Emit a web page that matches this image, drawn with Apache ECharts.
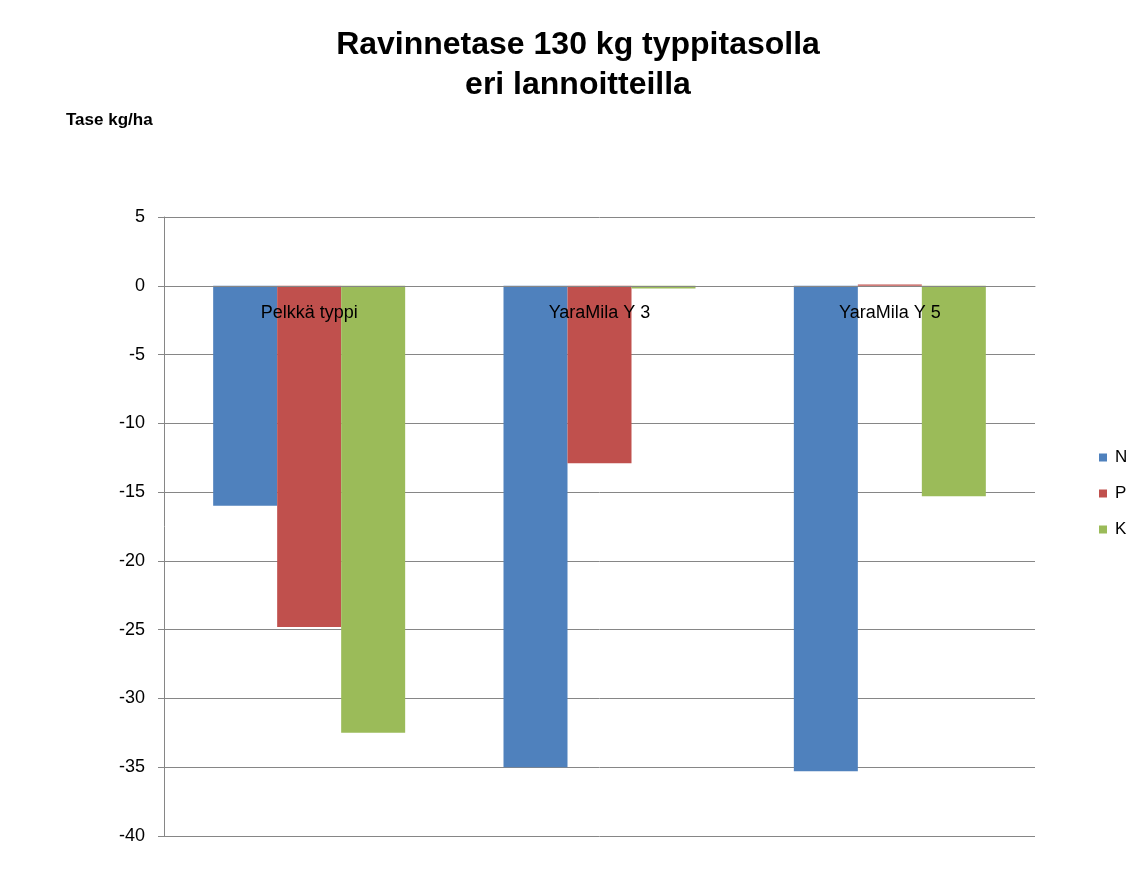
<!DOCTYPE html>
<html>
<head>
<meta charset="utf-8">
<script src="https://cdn.jsdelivr.net/npm/echarts@6/dist/echarts.min.js"></script>
<style>
  html, body { margin: 0; padding: 0; background: #fff; }
  #chart { width: 1146px; height: 874px; }
</style>
</head>
<body>
<div id="chart"></div>
<script>
const categories = ["Pelkkä typpi", "YaraMila Y 3", "YaraMila Y 5"];
const seriesNames = ["N", "P", "K"];
const nValues = [-16.0, -35.0, -35.3];
const pValues = [-24.8, -12.9, 0.1];
const kValues = [-32.5, -0.2, -15.3];
const colors = ["#4F81BD", "#C0504D", "#9BBB59"];

const font = '"Liberation Sans", Arial, sans-serif';
const chart = echarts.init(document.getElementById("chart"), null, { renderer: "canvas" });

const values = [nValues, pValues, kValues];

chart.setOption({
  backgroundColor: "#fff",
  textStyle: { fontFamily: font },
  animation: false,
  title: [
    {
      text: "Ravinnetase 130 kg typpitasolla\neri lannoitteilla",
      left: 573,
      top: 20,
      textAlign: "center",
      textStyle: {
        fontFamily: font,
        fontWeight: "bold",
        fontSize: 32,
        lineHeight: 40,
        color: "#000",
      },
    },
    {
      text: "Tase kg/ha",
      left: 61,
      top: 107,
      textStyle: { fontFamily: font, fontWeight: "bold", fontSize: 17, color: "#000" },
    },
  ],
  legend: {
    orient: "vertical",
    left: 1094,
    top: 444,
    itemWidth: 8,
    itemHeight: 8,
    itemGap: 19,
    icon: "rect",
    data: seriesNames,
    textStyle: { fontFamily: font, fontSize: 17, color: "#000", padding: [0, 0, 0, 3] },
  },
  grid: { left: 164, right: 111, top: 217, bottom: 38, containLabel: false },
  xAxis: {
    type: "category",
    data: categories,
    z: 10,
    offset: -550,
    axisLine: { onZero: false, lineStyle: { color: "#868686", width: 1 } },
    axisTick: { show: false },
    axisLabel: { color: "#000", fontSize: 18, fontFamily: font, margin: 18 },
  },
  yAxis: {
    type: "value",
    min: -40,
    max: 5,
    interval: 5,
    axisLine: { show: true, lineStyle: { color: "#868686" } },
    axisTick: { show: true, length: 6, lineStyle: { color: "#868686" } },
    axisLabel: { color: "#000", fontSize: 18, fontFamily: font, margin: 19 },
    splitLine: { lineStyle: { color: "#868686", width: 1 } },
  },
  series: seriesNames.map((name, i) => ({
    name,
    type: "bar",
    data: values[i],
    barWidth: 64,
    barGap: "0%",
    itemStyle: { color: colors[i] },
  })),
});
</script>
</body>
</html>
